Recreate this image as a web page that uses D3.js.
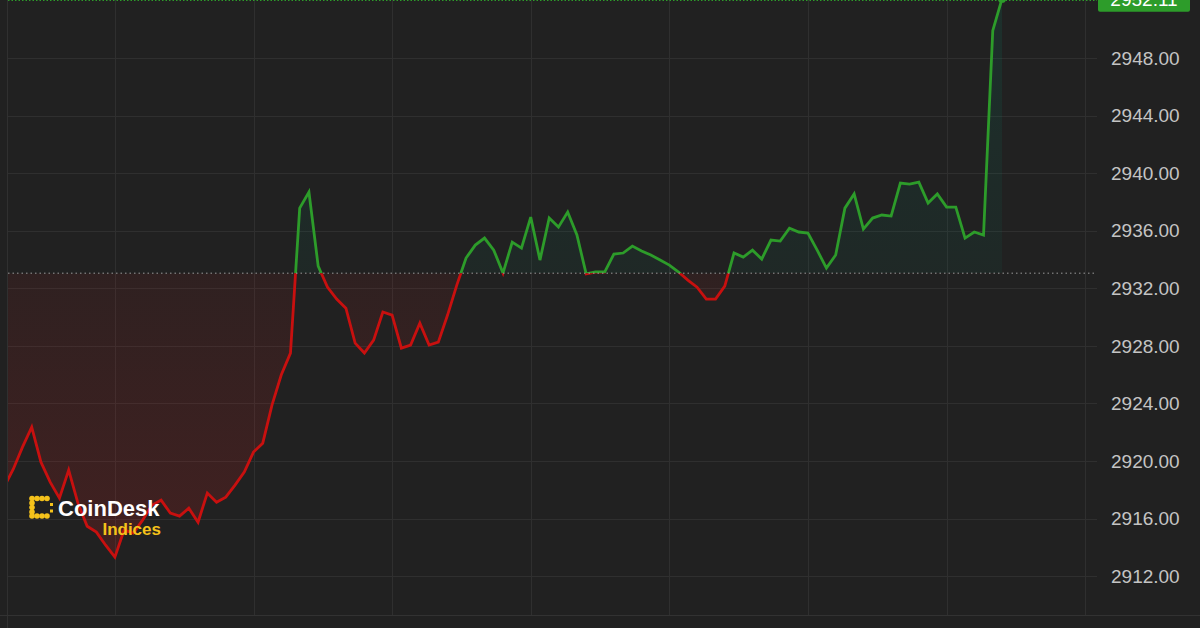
<!DOCTYPE html>
<html>
<head>
<meta charset="utf-8">
<script src="https://cdn.jsdelivr.net/npm/d3@7"></script>
<style>
  html, body { margin: 0; padding: 0; background: #212121; }
  svg { display: block; }
</style>
</head>
<body>
<div id="chart"></div>
<script>
// ---- Data ----
const values = [
  2918.18, 2919.43, 2920.96, 2922.35, 2919.92, 2918.53, 2917.42, 2919.37, 2917.07, 2915.47,
  2915.06, 2914.15, 2913.32, 2915.20, 2914.99, 2915.89, 2916.93, 2917.28, 2916.38, 2916.17,
  2916.72, 2915.75, 2917.77, 2917.14, 2917.49, 2918.32, 2919.23, 2920.62, 2921.24, 2923.88,
  2925.97, 2927.50, 2937.57, 2938.69, 2933.54, 2932.08, 2931.25, 2930.62, 2928.19, 2927.50,
  2928.40, 2930.35, 2930.14, 2927.84, 2928.05, 2929.58, 2928.05, 2928.26, 2930.14, 2932.22,
  2934.10, 2935.00, 2935.49, 2934.65, 2933.06, 2935.21, 2934.79, 2936.95, 2933.96, 2936.88,
  2936.25, 2937.30, 2935.70, 2933.00, 2933.13, 2933.13, 2934.38, 2934.45, 2934.93, 2934.59,
  2934.31, 2933.96, 2933.61, 2933.13, 2932.57, 2932.08, 2931.25, 2931.25, 2932.15, 2934.45,
  2934.17, 2934.65, 2934.03, 2935.35, 2935.28, 2936.18, 2935.91, 2935.84, 2934.65, 2933.40,
  2934.31, 2937.57, 2938.55, 2936.11, 2936.88, 2937.09, 2937.02, 2939.31, 2939.24, 2939.38,
  2937.92, 2938.55, 2937.64, 2937.64, 2935.49, 2935.91, 2935.70, 2949.90, 2952.11
];
const baseline = 2933.05;          // reference (open) price, dotted line
const lastPrice = 2952.11;         // current price label
const yTicks = [2912, 2916, 2920, 2924, 2928, 2932, 2936, 2940, 2944, 2948];
const xTicks = [12, 27, 42, 57, 72, 87, 102, 117];   // time gridline positions (point index)
const xDomain = [0, 108];
const yDomain = [2909.3, 2952.03];

// ---- Layout ----
const W = 1200, H = 628;
const plot = { left: 8, right: 1097, top: 0, bottom: 615 };

const svg = d3.select("#chart").append("svg")
  .attr("width", W).attr("height", H);

svg.append("rect").attr("width", W).attr("height", H).attr("fill", "#212121");

const x = d3.scaleLinear().domain(xDomain).range([4, 1002]);
const y = d3.scaleLinear().domain(yDomain).range([plot.bottom, plot.top]);
const baseY = y(baseline);

const defs = svg.append("defs");
defs.append("clipPath").attr("id", "plotClip").append("rect")
  .attr("x", plot.left).attr("y", plot.top)
  .attr("width", plot.right - plot.left).attr("height", plot.bottom - plot.top);
defs.append("clipPath").attr("id", "aboveClip").append("rect")
  .attr("x", plot.left).attr("y", plot.top - 20)
  .attr("width", plot.right - plot.left).attr("height", baseY - plot.top + 20);
defs.append("clipPath").attr("id", "belowClip").append("rect")
  .attr("x", plot.left).attr("y", baseY)
  .attr("width", plot.right - plot.left).attr("height", plot.bottom - baseY);

const gRed = defs.append("linearGradient").attr("id", "redGrad")
  .attr("gradientUnits", "userSpaceOnUse")
  .attr("x1", 0).attr("x2", 0).attr("y1", baseY).attr("y2", y(2913));
gRed.append("stop").attr("offset", 0).attr("stop-color", "rgb(210,30,30)").attr("stop-opacity", 0.08);
gRed.append("stop").attr("offset", 1).attr("stop-color", "rgb(210,30,30)").attr("stop-opacity", 0.19);

const gGreen = defs.append("linearGradient").attr("id", "greenGrad")
  .attr("gradientUnits", "userSpaceOnUse")
  .attr("x1", 0).attr("x2", 0).attr("y1", baseY).attr("y2", 0);
gGreen.append("stop").attr("offset", 0).attr("stop-color", "rgb(0,140,110)").attr("stop-opacity", 0.07);
gGreen.append("stop").attr("offset", 1).attr("stop-color", "rgb(0,140,110)").attr("stop-opacity", 0.14);

// ---- Grid ----
const grid = svg.append("g");
grid.selectAll("line.h").data(yTicks).join("line")
  .attr("x1", plot.left).attr("x2", plot.right)
  .attr("y1", d => Math.round(y(d)) + 0.5).attr("y2", d => Math.round(y(d)) + 0.5)
  .attr("stroke", "#2f2f2f").attr("stroke-width", 1);
grid.selectAll("line.v").data(xTicks).join("line")
  .attr("x1", d => Math.round(x(d)) + 0.5).attr("x2", d => Math.round(x(d)) + 0.5)
  .attr("y1", plot.top).attr("y2", plot.bottom)
  .attr("stroke", "#2f2f2f").attr("stroke-width", 1);
// frame lines
svg.append("line").attr("x1", 7.5).attr("x2", 7.5).attr("y1", 0).attr("y2", H)
  .attr("stroke", "#303030");
svg.append("line").attr("x1", 0).attr("x2", W).attr("y1", plot.bottom + 0.5).attr("y2", plot.bottom + 0.5)
  .attr("stroke", "#323232");

// ---- Area + line ----
const idx = values.map((v, i) => i);
const area = d3.area().x(i => x(i)).y0(baseY).y1(i => y(values[i]));
const line = d3.line().x(i => x(i)).y(i => y(values[i]));

const plotG = svg.append("g").attr("clip-path", "url(#plotClip)");

const up = plotG.append("g").attr("clip-path", "url(#aboveClip)");
up.append("path").datum(idx).attr("d", area).attr("fill", "url(#greenGrad)");
up.append("path").datum(idx).attr("d", line).attr("fill", "none")
  .attr("stroke", "#2d9c2a").attr("stroke-width", 2.8).attr("stroke-linejoin", "miter");

const down = plotG.append("g").attr("clip-path", "url(#belowClip)");
down.append("path").datum(idx).attr("d", area).attr("fill", "url(#redGrad)");
down.append("path").datum(idx).attr("d", line).attr("fill", "none")
  .attr("stroke", "#c8100f").attr("stroke-width", 2.8).attr("stroke-linejoin", "miter");

// baseline dotted
svg.append("line").attr("x1", plot.left).attr("x2", plot.right)
  .attr("y1", baseY).attr("y2", baseY)
  .attr("stroke", "#9a9a9a").attr("stroke-width", 1).attr("stroke-dasharray", "1.5,3");

// current price dotted line
const lastY = y(lastPrice);
svg.append("line").attr("x1", plot.left).attr("x2", plot.right)
  .attr("y1", 0.5).attr("y2", 0.5)
  .attr("stroke", "#2d9c2a").attr("stroke-width", 1).attr("stroke-dasharray", "1.5,2");

// last point marker
plotG.append("circle").attr("cx", x(values.length - 1)).attr("cy", lastY)
  .attr("r", 4).attr("fill", "#2d9c2a");

// ---- Y axis labels ----
const yAxis = svg.append("g");
yAxis.selectAll("text").data(yTicks).join("text")
  .attr("x", 1111).attr("y", d => y(d))
  .attr("dy", "0.35em")
  .attr("font-family", "Liberation Sans, Arial, sans-serif")
  .attr("font-size", 19).attr("fill", "#c4c4c4")
  .text(d3.format(".2f"));

// current price tag
svg.append("rect").attr("x", 1098).attr("y", lastY - 15).attr("width", 92).attr("height", 28)
  .attr("rx", 2).attr("fill", "#2d9c2a");
svg.append("text").attr("x", 1144).attr("y", lastY).attr("dy", "0.35em")
  .attr("text-anchor", "middle")
  .attr("font-family", "Liberation Sans, Arial, sans-serif")
  .attr("font-size", 19).attr("fill", "#ffffff")
  .text(d3.format(".2f")(lastPrice));

// ---- Logo ----
const logo = svg.append("g");
const yellow = "#f5c21b";
const dots = [];
[32, 37, 42, 47].forEach(cx => { dots.push([cx, 498.5]); dots.push([cx, 516]); });
[503, 507.5, 512].forEach(cy => dots.push([32, cy]));
logo.selectAll("circle").data(dots).join("circle")
  .attr("cx", d => d[0]).attr("cy", d => d[1]).attr("r", 2.8).attr("fill", yellow);
logo.append("rect").attr("x", 50).attr("y", 503).attr("width", 3).attr("height", 3).attr("fill", yellow);
logo.append("rect").attr("x", 50).attr("y", 509.5).attr("width", 3).attr("height", 3).attr("fill", yellow);
logo.append("text").attr("x", 58).attr("y", 516)
  .attr("font-family", "Liberation Sans, Arial, sans-serif").attr("font-weight", "bold")
  .attr("font-size", 22).attr("fill", "#ffffff").text("CoinDesk");
logo.append("text").attr("x", 161).attr("y", 535).attr("text-anchor", "end")
  .attr("font-family", "Liberation Sans, Arial, sans-serif").attr("font-weight", "bold")
  .attr("font-size", 17).attr("fill", yellow).text("Indices");
</script>
</body>
</html>
